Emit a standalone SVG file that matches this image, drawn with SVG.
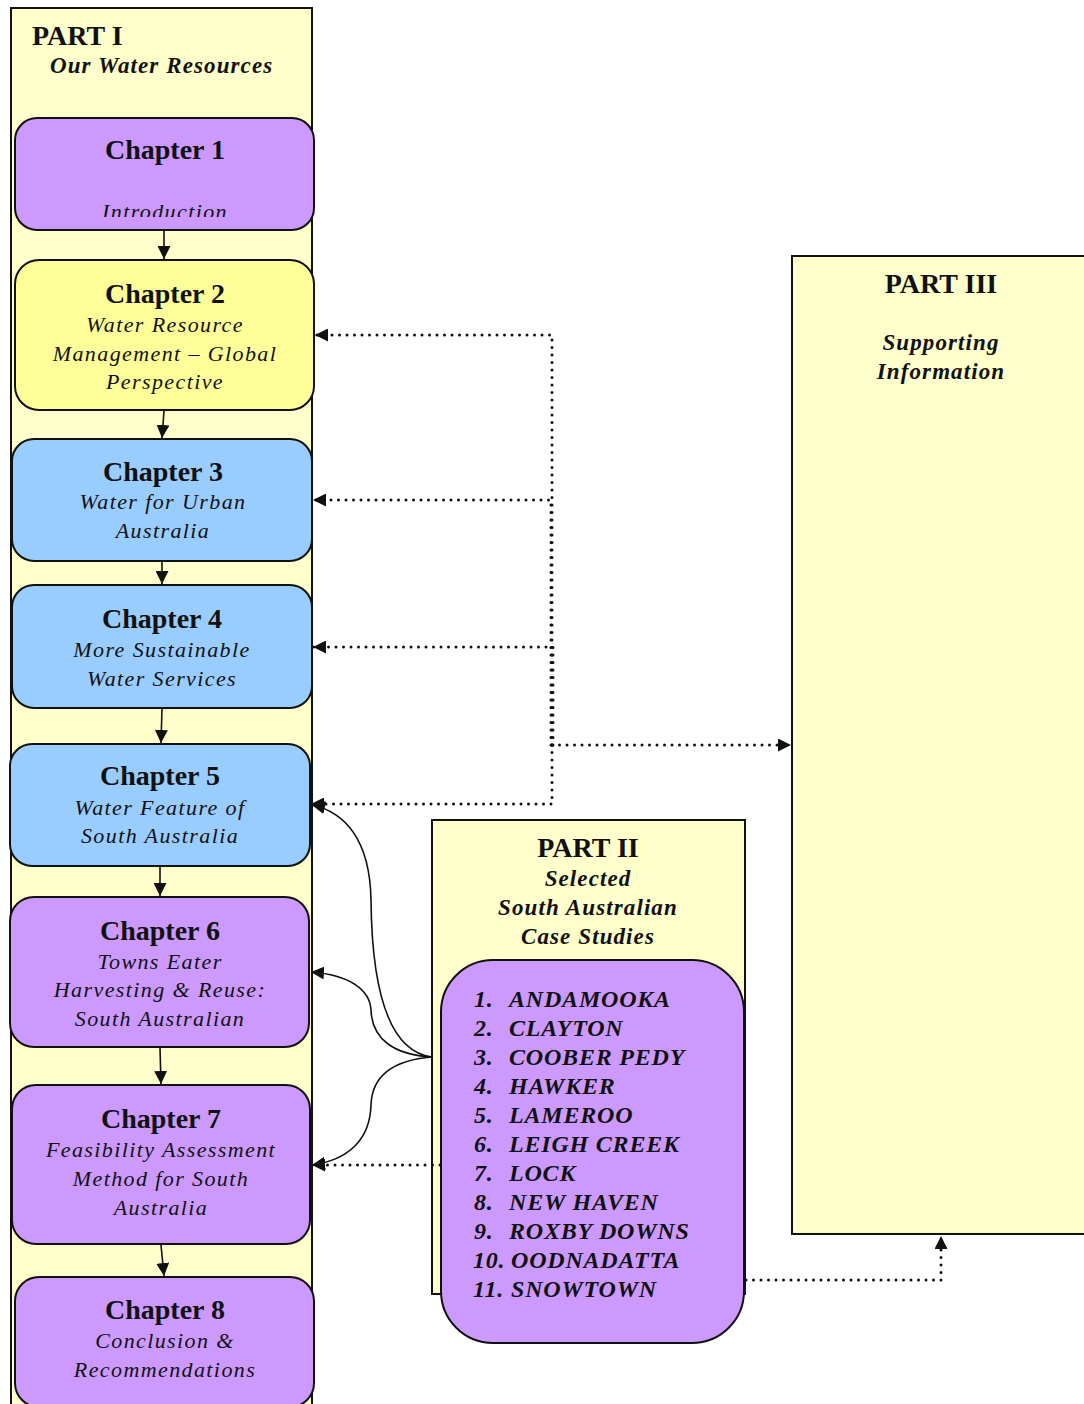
<svg xmlns="http://www.w3.org/2000/svg" width="1084" height="1404" viewBox="0 0 1084 1404">
  <style>
    .part { fill: #ffffcc; stroke: #111; stroke-width: 2; }
    .box { stroke: #111; stroke-width: 2; }
    .purple { fill: #cc99ff; }
    .blue { fill: #99ccff; }
    .yellow { fill: #ffff99; }
    text { font-family: "Liberation Serif", "Times New Roman", serif; fill: #111; }
    .h { font-size: 28px; font-weight: bold; text-anchor: middle; }
    .s { font-size: 22px; font-style: italic; letter-spacing: 1.4px; text-anchor: middle; }
    .bi { font-size: 23px; font-style: italic; font-weight: bold; letter-spacing: 1.1px; }
    .mid { text-anchor: middle; }
    .li { font-size: 24px; font-style: italic; font-weight: bold; letter-spacing: 0.8px; }
    .solid { fill: none; stroke: #111; stroke-width: 1.6; }
    .dot { fill: none; stroke: #111; stroke-width: 3; stroke-linecap: round; stroke-dasharray: 0 7.5; }
  </style>
  <defs>
    <marker id="arrow" markerUnits="userSpaceOnUse" markerWidth="14" markerHeight="13" refX="13" refY="6.5" orient="auto">
      <path d="M0,0 L13,6.5 L0,13 z" fill="#111"/>
    </marker>
    <clipPath id="ch1clip">
      <rect x="0" y="100" width="330" height="117"/>
    </clipPath>
  </defs>

  <!-- Part containers -->
  <g id="part1">
    <rect class="part" x="11" y="8" width="301" height="1420"/>
    <text class="h" x="32" y="45" style="text-anchor:start">PART I</text>
    <text class="bi" x="50" y="73">Our Water Resources</text>
  </g>
  <g id="part3">
    <rect class="part" x="792" y="256" width="310" height="978"/>
    <text class="h" x="941" y="293">PART III</text>
    <text class="bi mid" x="941" y="350">Supporting</text>
    <text class="bi mid" x="941" y="379">Information</text>
  </g>
  <g id="part2">
    <rect class="part" x="432" y="820" width="313" height="474"/>
    <text class="h" x="588" y="857">PART II</text>
    <text class="bi mid" x="588" y="886">Selected</text>
    <text class="bi mid" x="588" y="915">South Australian</text>
    <text class="bi mid" x="588" y="944">Case Studies</text>
  </g>

  <!-- Chapters -->
  <g id="ch1">
    <rect class="box purple" x="15" y="118" width="299" height="112" rx="22"/>
    <text class="h" x="165" y="159">Chapter 1</text>
    <text class="s" x="165" y="219" clip-path="url(#ch1clip)">Introduction</text>
  </g>
  <g id="ch2">
    <rect class="box yellow" x="15" y="260" width="299" height="150" rx="24"/>
    <text class="h" x="165" y="303">Chapter 2</text>
    <text class="s" x="165" y="332">Water Resource</text>
    <text class="s" x="165" y="361">Management – Global</text>
    <text class="s" x="165" y="389">Perspective</text>
  </g>
  <g id="ch3">
    <rect class="box blue" x="12" y="439" width="300" height="122" rx="22"/>
    <text class="h" x="163" y="481">Chapter 3</text>
    <text class="s" x="163" y="509">Water for Urban</text>
    <text class="s" x="163" y="538">Australia</text>
  </g>
  <g id="ch4">
    <rect class="box blue" x="12" y="585" width="300" height="123" rx="22"/>
    <text class="h" x="162" y="628">Chapter 4</text>
    <text class="s" x="162" y="657">More Sustainable</text>
    <text class="s" x="162" y="686">Water Services</text>
  </g>
  <g id="ch5">
    <rect class="box blue" x="10" y="744" width="300" height="122" rx="22"/>
    <text class="h" x="160" y="785">Chapter 5</text>
    <text class="s" x="160" y="815">Water Feature of</text>
    <text class="s" x="160" y="843">South Australia</text>
  </g>
  <g id="ch6">
    <rect class="box purple" x="10" y="897" width="299" height="150" rx="24"/>
    <text class="h" x="160" y="940">Chapter 6</text>
    <text class="s" x="160" y="969">Towns Eater</text>
    <text class="s" x="160" y="997">Harvesting &amp; Reuse:</text>
    <text class="s" x="160" y="1026">South Australian</text>
  </g>
  <g id="ch7">
    <rect class="box purple" x="12" y="1085" width="298" height="159" rx="24"/>
    <text class="h" x="161" y="1128">Chapter 7</text>
    <text class="s" x="161" y="1157">Feasibility Assessment</text>
    <text class="s" x="161" y="1186">Method for South</text>
    <text class="s" x="161" y="1215">Australia</text>
  </g>
  <g id="ch8">
    <rect class="box purple" x="15" y="1277" width="299" height="130" rx="24"/>
    <text class="h" x="165" y="1319">Chapter 8</text>
    <text class="s" x="165" y="1348">Conclusion &amp;</text>
    <text class="s" x="165" y="1377">Recommendations</text>
  </g>

  <!-- Case study list -->
  <g id="case-studies">
    <rect class="box purple" x="441" y="960" width="303" height="383" rx="52"/>
    <g class="li">
      <text x="474" y="1007">1.</text><text x="509" y="1007">ANDAMOOKA</text>
      <text x="474" y="1036">2.</text><text x="509" y="1036">CLAYTON</text>
      <text x="474" y="1065">3.</text><text x="509" y="1065">COOBER PEDY</text>
      <text x="474" y="1094">4.</text><text x="509" y="1094">HAWKER</text>
      <text x="474" y="1123">5.</text><text x="509" y="1123">LAMEROO</text>
      <text x="474" y="1152">6.</text><text x="509" y="1152">LEIGH CREEK</text>
      <text x="474" y="1181">7.</text><text x="509" y="1181">LOCK</text>
      <text x="474" y="1210">8.</text><text x="509" y="1210">NEW HAVEN</text>
      <text x="474" y="1239">9.</text><text x="509" y="1239">ROXBY DOWNS</text>
      <text x="473" y="1268">10.</text><text x="511" y="1268">OODNADATTA</text>
      <text x="473" y="1297">11.</text><text x="511" y="1297">SNOWTOWN</text>
    </g>
  </g>

  <!-- Connectors -->
  <g id="connectors">
    <!-- chapter sequence -->
    <line class="solid" x1="164" y1="231" x2="164" y2="259" marker-end="url(#arrow)"/>
    <line class="solid" x1="164" y1="411" x2="162" y2="438" marker-end="url(#arrow)"/>
    <line class="solid" x1="162" y1="562" x2="162" y2="584" marker-end="url(#arrow)"/>
    <line class="solid" x1="162" y1="709" x2="161" y2="743" marker-end="url(#arrow)"/>
    <line class="solid" x1="160" y1="867" x2="160" y2="896" marker-end="url(#arrow)"/>
    <line class="solid" x1="160" y1="1048" x2="161" y2="1084" marker-end="url(#arrow)"/>
    <line class="solid" x1="161" y1="1245" x2="164" y2="1276" marker-end="url(#arrow)"/>

    <!-- Part III supporting links -->
    <path class="dot" d="M552,745 H791" marker-end="url(#arrow)"/>
    <path class="dot" d="M552,745 V335 H315" marker-end="url(#arrow)"/>
    <path class="dot" d="M551,745 V500 H313" marker-end="url(#arrow)"/>
    <path class="dot" d="M553,745 V647 H313" marker-end="url(#arrow)"/>
    <path class="dot" d="M552,745 V804 H311" marker-end="url(#arrow)"/>

    <!-- Part II links -->
    <path class="solid" d="M432,1057 C392,1052 372,1000 371,900 C370,840 345,812 312,805" marker-end="url(#arrow)"/>
    <path class="solid" d="M432,1057 C395,1055 372,1040 371,1010 C370,990 350,975 311,972" marker-end="url(#arrow)"/>
    <path class="solid" d="M432,1057 C395,1060 372,1075 371,1105 C370,1140 348,1160 312,1165" marker-end="url(#arrow)"/>
    <path class="dot" d="M440,1165 H312" marker-end="url(#arrow)"/>
    <path class="dot" d="M746,1280 H941 V1236" marker-end="url(#arrow)"/>
  </g>
</svg>
